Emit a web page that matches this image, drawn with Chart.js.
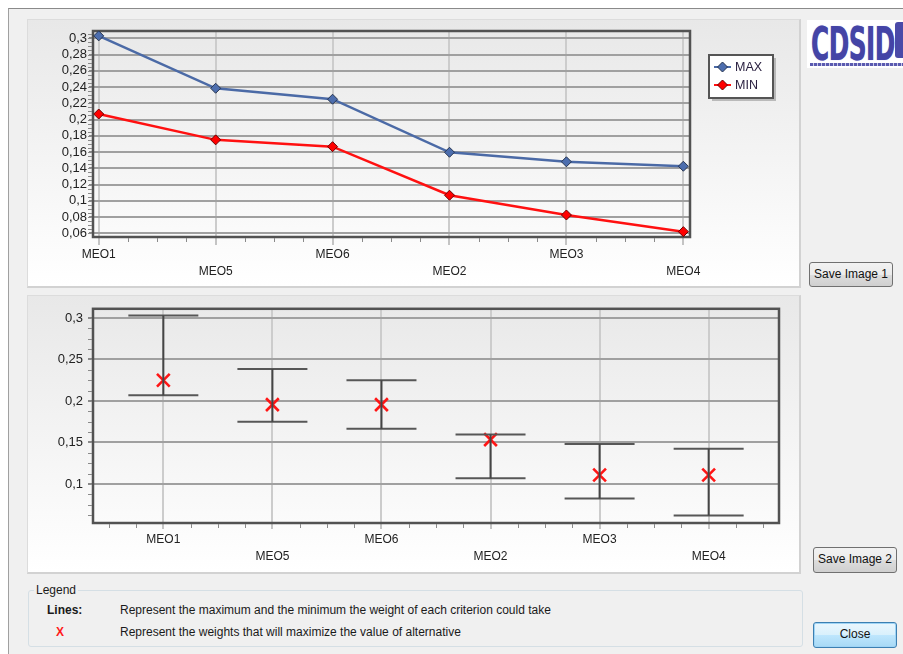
<!DOCTYPE html>
<html><head><meta charset="utf-8">
<script src="https://cdn.jsdelivr.net/npm/chart.js@4.4.0/dist/chart.umd.min.js"></script>
<style>
html,body{margin:0;padding:0;background:#fff;width:903px;height:654px;overflow:hidden;font-family:"Liberation Sans",Arial,sans-serif;}
.abs{position:absolute;box-sizing:border-box;}
#win{left:8px;top:8px;width:895px;height:646px;background:#f0f0f0;border-top:1px solid #8a8a8a;border-left:1px solid #a0a0a0;}
.panel{background:linear-gradient(#e8e8e8,#ffffff);border:1px solid #dcdcdc;border-right:2px solid #d2d2d2;border-bottom:2px solid #d2d2d2;}
canvas{position:absolute;}
.btn{font-size:12px;color:#111;text-align:center;border:1px solid #707070;border-radius:3px;background:linear-gradient(#f2f2f2 0%,#ebebeb 50%,#dddddd 51%,#cfcfcf 100%);line-height:23px;}
#close{border:1px solid #3c7fb1;background:linear-gradient(#eaf6fd 0%,#d9f0fc 50%,#bee6fd 51%,#a7d9f5 100%);box-shadow:inset 0 0 0 1px #9fd4f5;}
#logo{left:807px;top:20px;width:96px;height:48px;background:#fff;overflow:hidden;}
#logo .t{position:absolute;left:4px;top:-3px;font:bold 46px "DejaVu Sans",sans-serif;color:#4444a6;transform:scaleX(0.54);transform-origin:0 0;letter-spacing:-1px;text-shadow:0 0 1px #7a7ad0;}
#gb{left:28px;top:590px;width:775px;height:57px;border:1px solid #d5dfe5;border-radius:3px;}
.txt{font-size:12px;color:#1a1a1a;white-space:nowrap;}
</style></head>
<body>
<div id="win" class="abs"></div>
<div class="abs panel" style="left:27px;top:19px;width:774px;height:269px;"></div>
<div class="abs panel" style="left:27px;top:295px;width:774px;height:279px;"></div>
<canvas id="c1" width="772" height="267" style="left:28px;top:20px;"></canvas>
<canvas id="c2" width="772" height="277" style="left:28px;top:296px;"></canvas>
<div id="logo" class="abs"><div class="t">CDSID</div>
<div class="abs" style="left:88px;top:2px;width:8px;height:36px;background:#4a4aa8;border-radius:3px 0 0 3px;"></div>
<div class="abs" style="left:3px;top:43px;width:93px;height:3px;background:repeating-linear-gradient(90deg,#5a5ab0 0 3px,#c8c8e8 3px 4px);"></div>
</div>
<div class="abs btn" style="left:809px;top:262px;width:84px;height:25px;">Save Image 1</div>
<div class="abs btn" style="left:813px;top:547px;width:84px;height:26px;">Save Image 2</div>
<div id="close" class="abs btn" style="left:813px;top:622px;width:84px;height:26px;">Close</div>
<div id="gb" class="abs"></div>
<div class="abs txt" style="left:34px;top:583px;background:#f0f0f0;padding:0 2px;">Legend</div>
<div class="abs txt" style="left:47px;top:603px;font-weight:bold;">Lines:</div>
<div class="abs txt" style="left:120px;top:603px;">Represent the maximum and the minimum the weight of each criterion could take</div>
<div class="abs txt" style="left:56px;top:625px;font-weight:bold;color:#ff1a1a;">X</div>
<div class="abs txt" style="left:120px;top:625px;">Represent the weights that will maximize the value of alternative</div>
<script>
const categories = ['MEO1','MEO5','MEO6','MEO2','MEO3','MEO4'];
const maxWeights = [0.303, 0.2385, 0.225, 0.1597, 0.148, 0.1425];
const minWeights = [0.2068, 0.175, 0.1666, 0.1068, 0.0825, 0.062];
const optWeights = [0.225, 0.1956, 0.1956, 0.1534, 0.1108, 0.1108];
const seriesNames = ['MAX', 'MIN'];
const topYTicks = [0.06,0.08,0.1,0.12,0.14,0.16,0.18,0.2,0.22,0.24,0.26,0.28,0.3];
const bottomYTicks = [0.1,0.15,0.2,0.25,0.3];

const FONT = '"Liberation Sans", Arial, sans-serif';
const fmt = v => v.toFixed(2).replace(/0+$/,'').replace(/\.$/,'').replace('.', ',');
const xLabel = v => { const i = Math.round(v); return i % 2 ? ['', categories[i]] : categories[i]; };

const frame = {
  id: 'frame',
  beforeDatasetsDraw(chart, args, o) {
    const a = chart.chartArea, ctx = chart.ctx;
    ctx.save();
    ctx.strokeStyle = '#525252'; ctx.lineWidth = 2.5;
    ctx.strokeRect(a.left, a.top, a.right - a.left, a.bottom - a.top);
    ctx.strokeStyle = '#8a8a8a'; ctx.lineWidth = 1;
    const xs = chart.scales.x, ys = chart.scales.y;
    const sx = o.minorX;
    for (let k = Math.ceil(xs.min / sx); k * sx <= xs.max; k++) {
      const v = k * sx;
      if (Math.abs(v - Math.round(v)) < 1e-6) continue;
      const p = Math.round(xs.getPixelForValue(v)) + 0.5;
      ctx.beginPath(); ctx.moveTo(p, a.bottom + 1); ctx.lineTo(p, a.bottom + 5); ctx.stroke();
    }
    const sy = o.minorY;
    for (let k = Math.ceil(ys.min / sy); k * sy <= ys.max; k++) {
      const p = Math.round(ys.getPixelForValue(k * sy)) + 0.5;
      ctx.beginPath(); ctx.moveTo(a.left - 5, p); ctx.lineTo(a.left - 1, p); ctx.stroke();
    }
    ctx.restore();
  }
};

const boxLegend = {
  id: 'boxLegend',
  afterDraw(chart, args, o) {
    if (!o.show) return;
    const ctx = chart.ctx, bx = 681, by = 35, bw = 64, bh = 43;
    ctx.save();
    ctx.fillStyle = 'rgba(0,0,0,0.22)'; ctx.fillRect(bx + 3, by + 3, bw, bh);
    ctx.fillStyle = '#fff'; ctx.fillRect(bx, by, bw, bh);
    ctx.strokeStyle = '#555'; ctx.lineWidth = 2; ctx.strokeRect(bx, by, bw, bh);
    chart.data.datasets.forEach((ds, i) => {
      const cy = by + 12 + i * 18;
      ctx.strokeStyle = ds.borderColor; ctx.lineWidth = 2;
      ctx.beginPath(); ctx.moveTo(bx + 5, cy); ctx.lineTo(bx + 22, cy); ctx.stroke();
      ctx.fillStyle = ds.pointBackgroundColor; ctx.strokeStyle = ds.pointBorderColor; ctx.lineWidth = 1;
      Chart.helpers.drawPoint(ctx, {pointStyle: 'rectRot', radius: 5, borderWidth: 1, rotation: 0}, bx + 13.5, cy);
      ctx.fillStyle = '#2a2040'; ctx.font = '12.5px ' + FONT; ctx.textBaseline = 'middle';
      ctx.fillText(ds.label, bx + 26, cy + 1);
    });
    ctx.restore();
  }
};

function axisX(min, max, h, tl, pad) {
  return {
    type: 'linear', min, max,
    afterBuildTicks: s => { s.ticks = categories.map((c, i) => ({value: i})); },
    afterFit: s => { s.height = h; },
    ticks: {autoSkip: false, maxRotation: 0, padding: pad, color: '#222', font: {family: FONT, size: 12, lineHeight: 1.4}, callback: xLabel},
    grid: {color: '#cccccc', lineWidth: 2, tickLength: tl, tickColor: '#c4c4c4'},
    border: {display: false}
  };
}
function axisY(min, max, w, ticks, tl, pad) {
  return {
    type: 'linear', min, max,
    afterBuildTicks: s => { s.ticks = ticks.map(v => ({value: v})); },
    afterFit: s => { s.width = w; },
    ticks: {autoSkip: false, padding: pad, color: '#222', font: {family: FONT, size: 13}, callback: v => fmt(v)},
    grid: {color: '#a0a0a0', lineWidth: 2, tickLength: tl, tickColor: '#8a8a8a'},
    border: {display: false}
  };
}

new Chart(document.getElementById('c1'), {
  type: 'line',
  data: {
    datasets: [
      {label: seriesNames[0], data: categories.map((c, i) => ({x: i, y: maxWeights[i]})),
       borderColor: '#4b6aa6', borderWidth: 2.5, pointStyle: 'rectRot', pointRadius: 5,
       pointBackgroundColor: '#4d6eae', pointBorderColor: '#26344f', pointBorderWidth: 1, tension: 0, clip: false},
      {label: seriesNames[1], data: categories.map((c, i) => ({x: i, y: minWeights[i]})),
       borderColor: '#ff1010', borderWidth: 2.5, pointStyle: 'rectRot', pointRadius: 5,
       pointBackgroundColor: '#ff0000', pointBorderColor: '#6a0000', pointBorderWidth: 1, tension: 0, clip: false}
    ]
  },
  options: {
    responsive: false, animation: false, devicePixelRatio: 1,
    layout: {autoPadding: false, padding: {top: 11, right: 110, left: 0, bottom: 0}},
    plugins: {legend: {display: false}, tooltip: {enabled: false}, frame: {minorX: 0.25, minorY: 0.005}, boxLegend: {show: true}},
    scales: {x: axisX(-0.049, 5.057, 50, 8, 1), y: axisY(0.0554, 0.309, 65, topYTicks, 4, 2)}
  },
  plugins: [frame, boxLegend]
});

const stems = [];
categories.forEach((c, i) => { stems.push({x: i, y: minWeights[i]}, {x: i, y: maxWeights[i]}, {x: i, y: null}); });
const caps = [];
categories.forEach((c, i) => { caps.push({x: i, y: minWeights[i]}, {x: i, y: maxWeights[i]}); });

new Chart(document.getElementById('c2'), {
  type: 'line',
  data: {
    datasets: [
      {label: 'range', data: stems, borderColor: '#454545', borderWidth: 2, pointRadius: 0, spanGaps: false, clip: false},
      {label: 'limits', data: caps, showLine: false, pointStyle: 'line', pointRadius: 35,
       pointBorderColor: '#575757', pointBorderWidth: 2, borderColor: '#575757', clip: false},
      {label: 'weights', data: categories.map((c, i) => ({x: i, y: optWeights[i]})), showLine: false,
       pointStyle: 'crossRot', pointRadius: 9, pointBorderColor: '#ff1515', pointBorderWidth: 2.6, borderColor: '#ff1515', clip: false}
    ]
  },
  options: {
    responsive: false, animation: false, devicePixelRatio: 1,
    layout: {autoPadding: false, padding: {top: 11, right: 21, left: 0, bottom: 0}},
    plugins: {legend: {display: false}, tooltip: {enabled: false}, frame: {minorX: 0.25, minorY: 0.0125}, boxLegend: {show: false}},
    scales: {x: axisX(-0.645, 5.645, 50, 6, 2), y: axisY(0.0529, 0.3111, 65, bottomYTicks, 5, 5)}
  },
  plugins: [frame, boxLegend]
});
</script>
</body></html>
